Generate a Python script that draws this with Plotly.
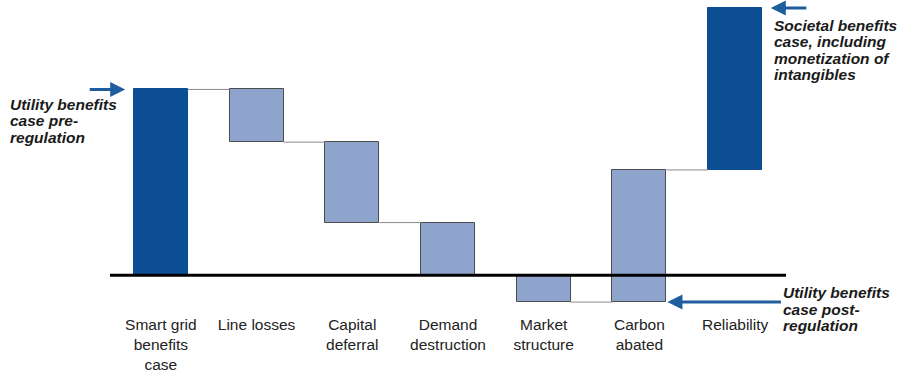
import plotly.graph_objects as go

categories = ["Smart grid<br>benefits<br>case", "Line losses", "Capital<br>deferral",
              "Demand<br>destruction", "Market<br>structure", "Carbon<br>abated", "Reliability"]
changes = [18.7, -5.3, -8.1, -5.3, -2.7, 13.3, 16.3]
is_dark = [True, False, False, False, False, False, True]

DARK = "#0B4E94"
LIGHT = "#8FA4CD"
ARROW = "#1F5E9E"
TXT = "#1a1a1a"

# cumulative levels
bases, ends = [], []
level = 0.0
for c in changes:
    bases.append(level)
    level += c
    ends.append(level)

xs = list(range(len(categories)))
BW = 0.565

fig = go.Figure()
fig.add_trace(go.Bar(
    x=xs, y=changes, base=bases, width=BW,
    marker=dict(color=[DARK if d else LIGHT for d in is_dark],
                line=dict(color=[DARK if d else "#4d4d4d" for d in is_dark], width=1)),
    hoverinfo="skip", showlegend=False))

# connectors
for i in range(len(xs) - 1):
    fig.add_trace(go.Scatter(
        x=[xs[i] + BW / 2, xs[i + 1] - BW / 2], y=[ends[i], ends[i]],
        mode="lines", line=dict(color="#8a8a8a", width=1),
        hoverinfo="skip", showlegend=False))

L, R, T, B = 113, 126, 5, 63
W, H = 909, 378
PW, PH = W - L - R, H - T - B

def px(x):
    return (x - L) / PW

def py(y):
    return (H - B - y) / PH

fig.add_shape(type="line", xref="paper", yref="y", x0=px(110), x1=px(786), y0=0, y1=0,
              line=dict(color="black", width=3), layer="above")

font_ann = dict(family="Liberation Sans, Arial, sans-serif", size=15.5, color=TXT)

def text_block(lines, x_px, y0, step):
    for k, t in enumerate(lines):
        fig.add_annotation(text="<b><i>" + t + "</i></b>", xref="paper", yref="paper",
                           x=px(x_px), y=py(y0 + k * step), xanchor="left", yanchor="middle",
                           showarrow=False, font=font_ann, borderpad=0)

text_block(["Utility benefits", "case pre-", "regulation"], 9, 105, 16.5)
text_block(["Societal benefits", "case, including", "monetization of", "intangibles"],
           773, 25.5, 16.5)
text_block(["Utility benefits", "case post-", "regulation"], 782, 294.5, 16.5)

def arrow(x, y, ax):
    fig.add_annotation(x=x, y=y, xref="x", yref="y", ax=ax, ay=0, axref="pixel", ayref="pixel",
                       text="", showarrow=True, arrowhead=2, arrowsize=1, arrowwidth=3,
                       arrowcolor=ARROW, standoff=0)

arrow(xs[0] - BW / 2 - 0.09, ends[0], -37)
arrow(xs[-1] + BW / 2 + 0.09, ends[-1], 37)
arrow(xs[5] + BW / 2 + 0.01, bases[5], 115)

fig.update_layout(
    width=W, height=H, margin=dict(l=L, r=R, t=T, b=B),
    plot_bgcolor="white", paper_bgcolor="white",
    xaxis=dict(range=[-0.5, 6.5], tickvals=xs, ticktext=categories, showgrid=False,
               zeroline=False, showline=False, ticks="",
               tickfont=dict(family="Liberation Sans, Arial, sans-serif", size=15.5, color="#222")),
    yaxis=dict(range=[-3.8, 27.2], showgrid=False, zeroline=False, showline=False,
               showticklabels=False, ticks=""),
    bargap=0,
)

fig.write_html("out.html")
